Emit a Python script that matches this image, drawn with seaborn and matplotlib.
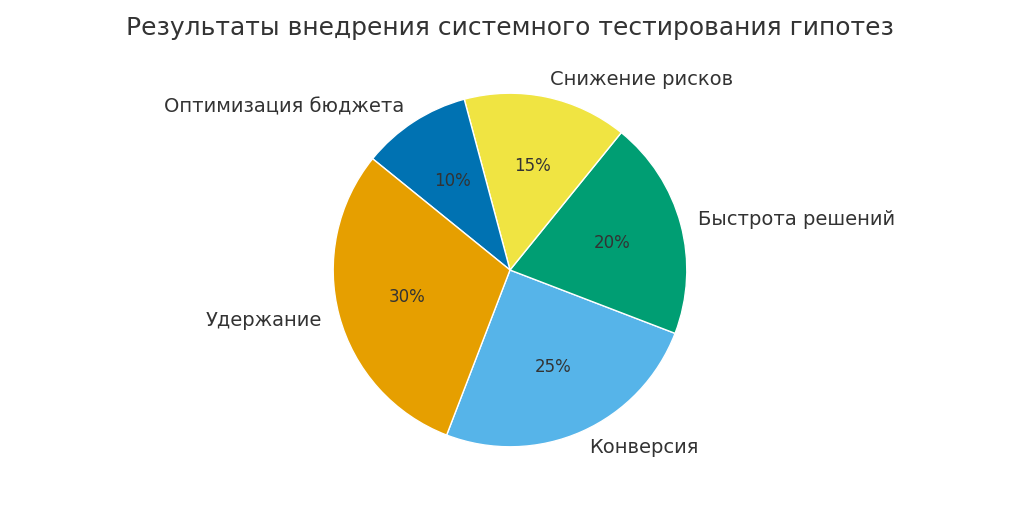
import matplotlib
matplotlib.use("Agg")
import matplotlib.pyplot as plt
import seaborn as sns

sns.set_theme(style="white")
plt.rcParams['font.family'] = ['DejaVu Sans']

categories = ["Конверсия", "Быстрота решений", "Снижение рисков", "Оптимизация бюджета", "Удержание"]
values = [25, 20, 15, 10, 30]
colors = ["#56B4E9", "#009E73", "#F0E442", "#0072B2", "#E69F00"]

fig = plt.figure(figsize=(10.24, 5.11), dpi=100)
ax = fig.add_axes([289/1024, 20/511, 442/1024, 442/511])
wedges, texts, autotexts = ax.pie(values, labels=categories, colors=colors, startangle=249,
                                  autopct='%1.0f%%', pctdistance=0.6, labeldistance=1.1,
                                  textprops={'fontsize': 14, 'color': '#333333'})
for t in autotexts:
    t.set_fontsize(12)
ax.set_xlim(-1.25, 1.25)
ax.set_ylim(-1.25, 1.25)
ax.set_aspect('equal')
fig.text(0.498, 0.945, "Результаты внедрения системного тестирования гипотез",
         ha='center', va='center', fontsize=18, color='#333333')
fig.savefig("out.png", dpi=100)
